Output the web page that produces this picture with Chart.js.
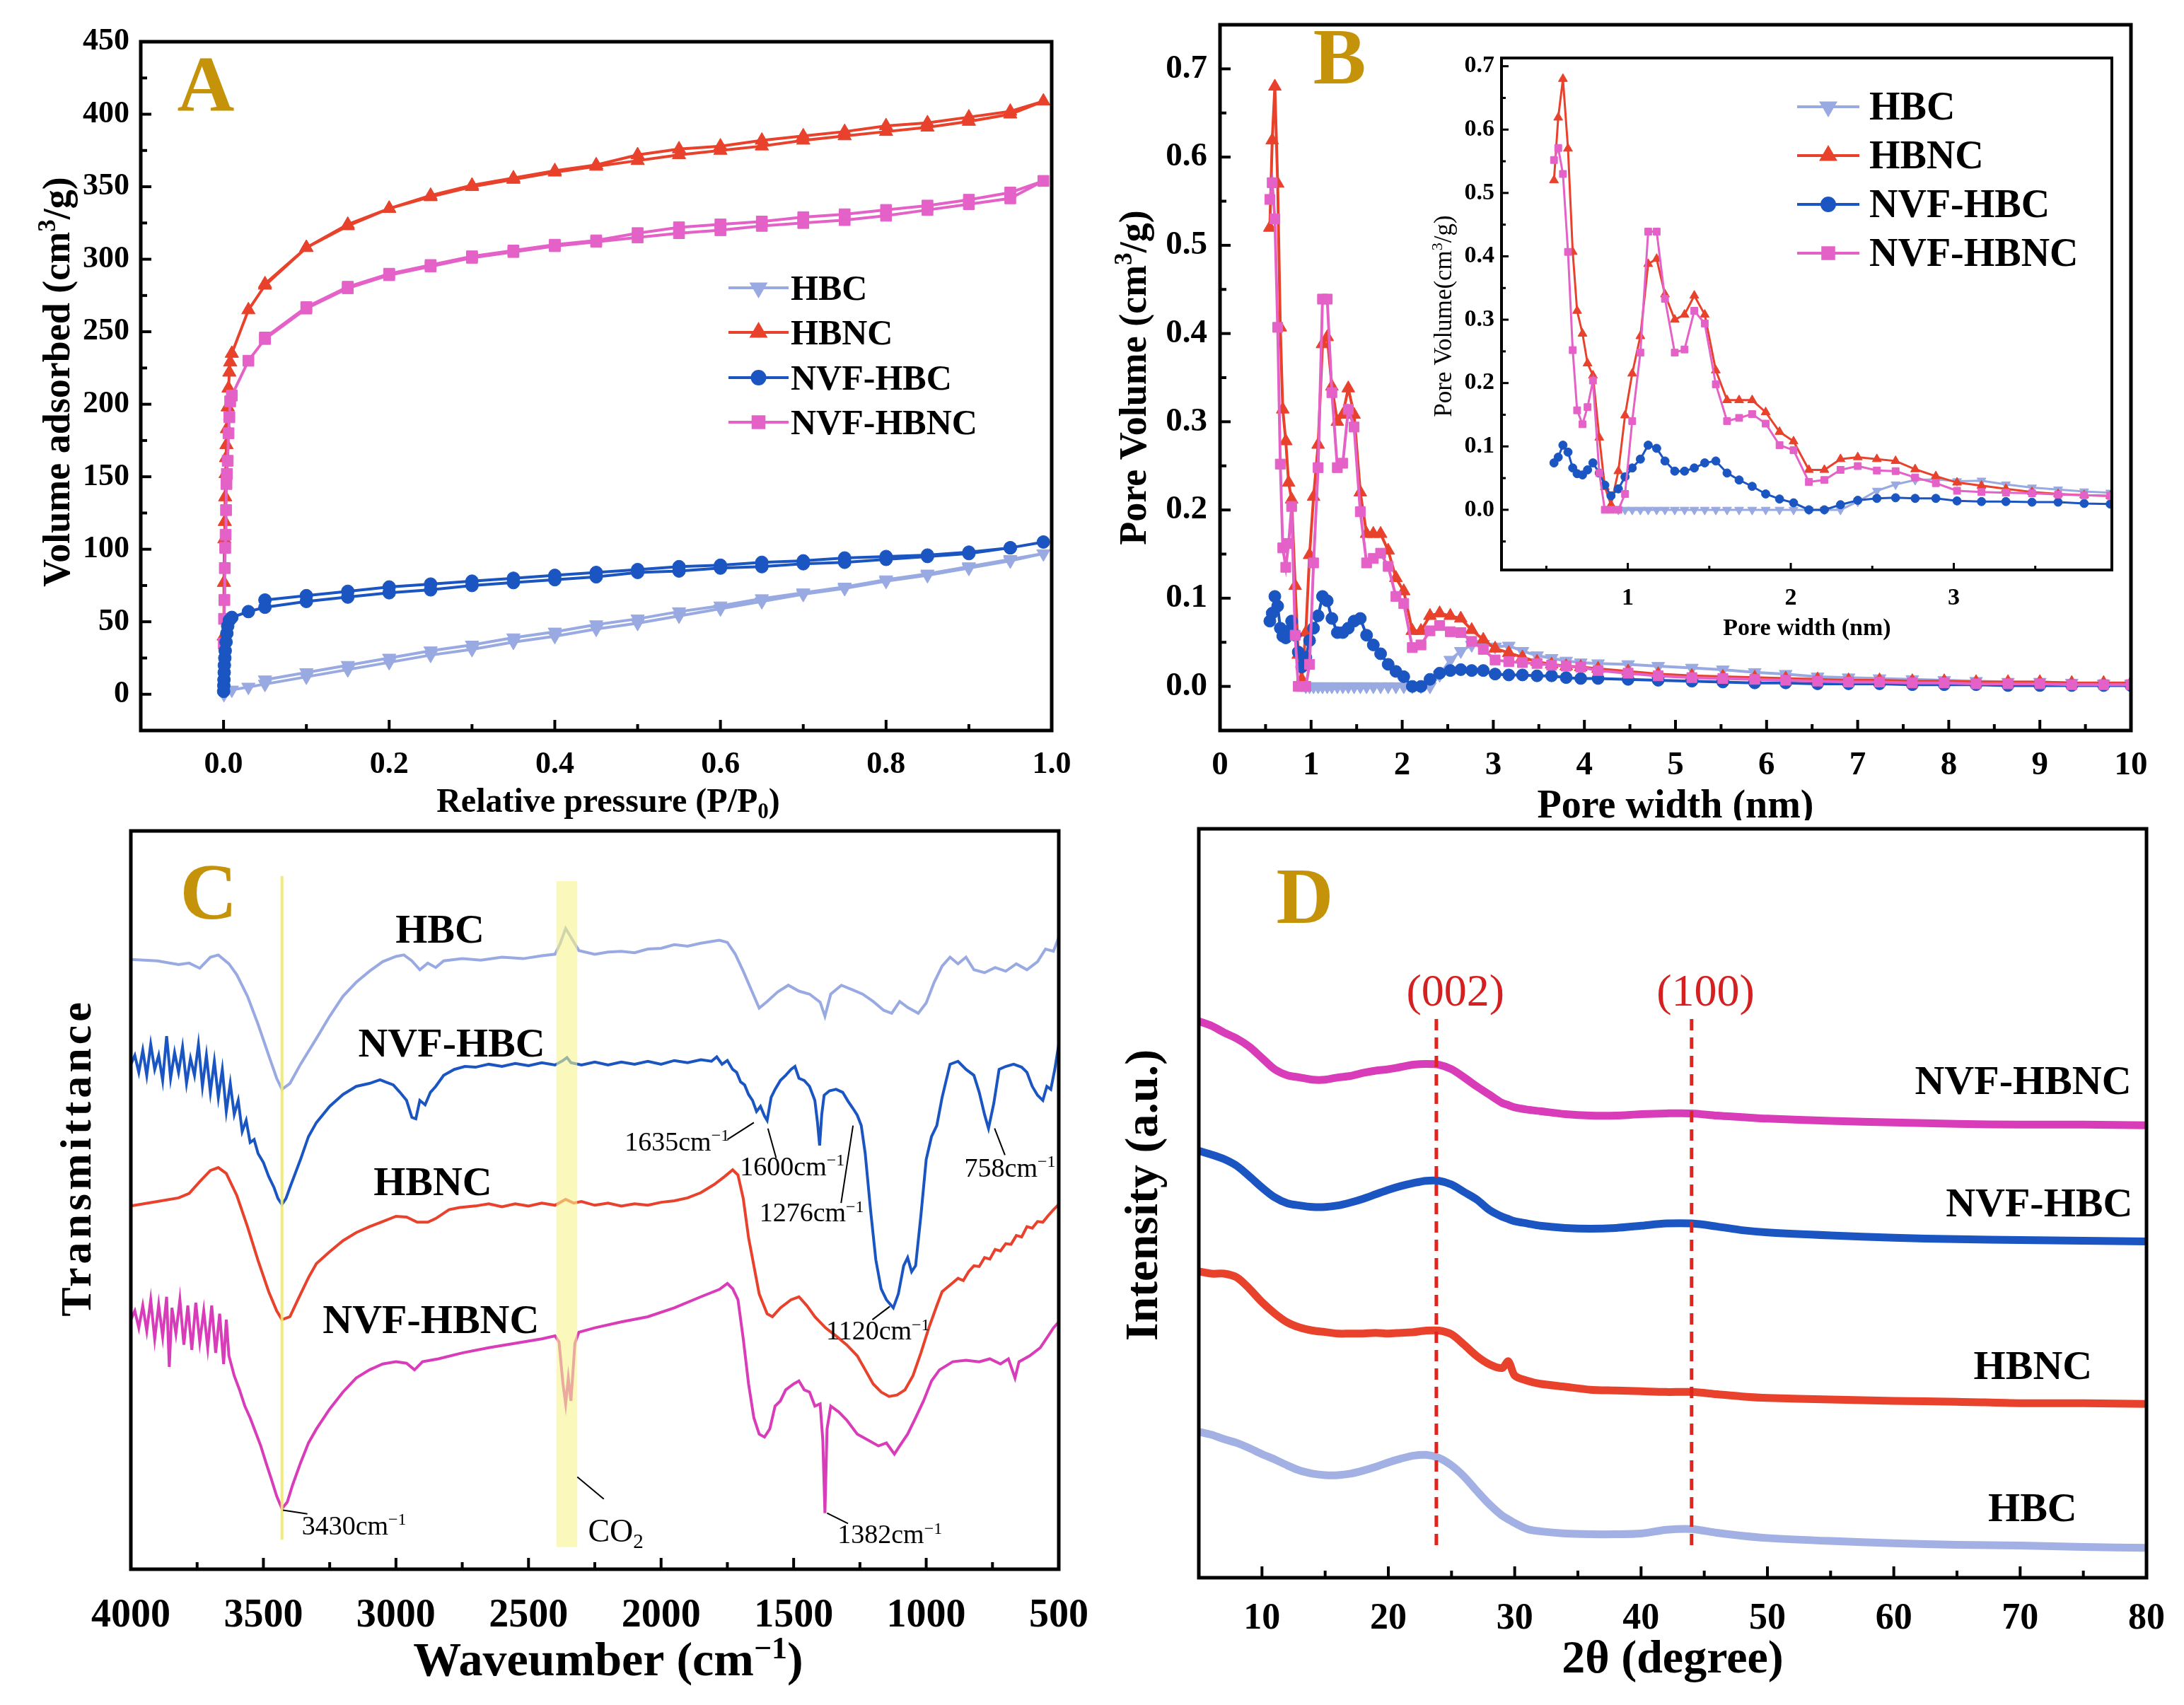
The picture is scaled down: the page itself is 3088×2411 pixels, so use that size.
<!DOCTYPE html>
<html>
<head>
<meta charset="utf-8">
<script src="https://cdn.jsdelivr.net/npm/chart.js@4.4.1/dist/chart.umd.min.js"></script>
<style>
  body { margin: 0; background: #fff; width: 3088px; height: 2411px; position: relative; overflow: hidden; }
  canvas { position: absolute; }
</style>
</head>
<body>
<canvas id="cA" width="1544" height="1160" style="left:0;top:0;width:1544px;height:1160px"></canvas>
<canvas id="cB" width="1544" height="1160" style="left:1544px;top:0;width:1544px;height:1160px"></canvas>
<canvas id="cI" width="1010" height="850" style="left:1990px;top:60px;width:1010px;height:850px"></canvas>
<canvas id="cC" width="1600" height="1251" style="left:0;top:1160px;width:1600px;height:1251px"></canvas>
<canvas id="cD" width="1544" height="1251" style="left:1544px;top:1160px;width:1544px;height:1251px"></canvas>
<script>
// ---- A: N2 isotherms (P/P0, cm3/g) ----
const pBranch = [0.05, 0.1, 0.15, 0.2, 0.25, 0.3, 0.35, 0.4, 0.45, 0.5, 0.55, 0.6, 0.65, 0.7, 0.75, 0.8, 0.85, 0.9, 0.95];
const pTop = 0.99;

const hbcLowP = [0.0005, 0.01, 0.03];
const hbcLowV = [0, 3, 5];
const hbcAds = [7, 12, 17, 22, 27, 31, 36, 40, 45, 49, 54, 59, 64, 69, 73, 78, 82, 87, 92];
const hbcDes = [10, 15, 20, 25, 30, 34, 39, 43, 48, 52, 57, 61, 66, 70, 74, 79, 83, 88, 93];
const hbcTop = 97;

const hbncLowP = [0.0002, 0.0005, 0.001, 0.0015, 0.002, 0.0025, 0.003, 0.0035, 0.004, 0.005, 0.006, 0.007, 0.008, 0.01, 0.03];
const hbncLowV = [40, 77, 107, 119, 136, 152, 163, 172, 183, 198, 211, 222, 229, 235, 265];
const hbncAds = [282, 308, 323, 335, 343, 350, 355, 360, 364, 368, 372, 375, 378, 382, 385, 388, 391, 395, 400];
const hbncDes = [283, 308, 324, 335, 344, 351, 356, 361, 365, 372, 376, 378, 382, 385, 388, 392, 394, 398, 402];
const hbncTop = 409;

const nvfHbcLowP = [0.0001, 0.0003, 0.0005, 0.0008, 0.001, 0.0015, 0.002, 0.003, 0.004, 0.005, 0.007, 0.01, 0.03];
const nvfHbcLowV = [2, 6, 10, 15, 20, 25, 30, 36, 42, 47, 51, 53, 57];
const nvfHbcAds = [60, 64, 67, 70, 72, 75, 77, 79, 81, 84, 85, 87, 88, 90, 91, 93, 95, 97, 101];
const nvfHbcDes = [65, 68, 71, 74, 76, 78, 80, 82, 84, 86, 88, 89, 91, 92, 94, 95, 96, 98, 101];
const nvfHbcTop = 105;

const nvfHbncLowP = [0.0003, 0.0006, 0.001, 0.0015, 0.002, 0.0025, 0.003, 0.0035, 0.004, 0.005, 0.006, 0.007, 0.008, 0.01, 0.03];
const nvfHbncLowV = [35, 52, 65, 87, 101, 110, 127, 145, 152, 161, 180, 191, 202, 206, 230];
const nvfHbncAds = [245, 266, 280, 289, 295, 301, 305, 309, 312, 315, 318, 320, 323, 325, 327, 330, 334, 338, 342];
const nvfHbncDes = [246, 267, 281, 290, 296, 302, 306, 310, 313, 318, 322, 324, 326, 329, 331, 334, 337, 341, 346];
const nvfHbncTop = 354;

const aTicksX = [0, 0.2, 0.4, 0.6, 0.8, 1.0];
const aTicksY = [0, 50, 100, 150, 200, 250, 300, 350, 400, 450];

// ---- B: pore size distribution (nm, cm3/g) ----
const poreWidth = [0.547, 0.573, 0.602, 0.633, 0.662, 0.689, 0.722, 0.753, 0.786, 0.825, 0.859, 0.897, 0.942,
  0.983, 1.027, 1.077, 1.125, 1.177, 1.228, 1.288, 1.348, 1.408, 1.472, 1.540, 1.609, 1.683, 1.763, 1.846,
  1.931, 2.017, 2.111, 2.206, 2.305, 2.411, 2.528, 2.643, 2.763, 2.89, 3.02, 3.17, 3.32, 3.48, 3.64, 3.80,
  3.96, 4.15, 4.48, 4.81, 5.18, 5.52, 5.87, 6.21, 6.56, 6.90, 7.24, 7.60, 7.95, 8.30, 8.65, 9.00, 9.35, 9.70, 10.0];
const hbcPV = [null, null, null, null, null, null, null, null, null, null, null, null, 0.000,
  0.000, 0.000, 0.000, 0.000, 0.000, 0.000, 0.000, 0.000, 0.000, 0.000, 0.000, 0.000, 0.000, 0.000, 0.000,
  0.000, 0.000, 0.000, 0.000, 0.000, 0.013, 0.030, 0.040, 0.047, 0.048, 0.045, 0.046, 0.040, 0.035, 0.032, 0.029,
  0.027, 0.026, 0.025, 0.023, 0.021, 0.019, 0.016, 0.014, 0.011, 0.010, 0.009, 0.008, 0.007, 0.006, 0.005, 0.005, 0.004, 0.003, 0.003];
const hbncPV = [0.520, 0.619, 0.680, 0.570, 0.407, 0.314, 0.278, 0.231, 0.212, 0.114, 0.036, 0.008, 0.061,
  0.149, 0.215, 0.274, 0.388, 0.396, 0.340, 0.300, 0.308, 0.338, 0.308, 0.220, 0.173, 0.173, 0.173, 0.154,
  0.123, 0.108, 0.063, 0.063, 0.080, 0.083, 0.080, 0.077, 0.064, 0.053, 0.043, 0.038, 0.033, 0.028, 0.025, 0.023,
  0.022, 0.020, 0.017, 0.014, 0.012, 0.011, 0.010, 0.009, 0.008, 0.007, 0.007, 0.006, 0.006, 0.005, 0.005, 0.005, 0.004, 0.004, 0.004];
const nvfHbcPV = [0.074, 0.083, 0.102, 0.091, 0.066, 0.057, 0.055, 0.063, 0.074, 0.058, 0.039, 0.022, 0.033,
  0.052, 0.066, 0.080, 0.102, 0.097, 0.077, 0.061, 0.061, 0.066, 0.074, 0.077, 0.058, 0.047, 0.037, 0.025,
  0.017, 0.011, 0.000, 0.000, 0.008, 0.015, 0.018, 0.019, 0.018, 0.018, 0.014, 0.013, 0.013, 0.012, 0.012, 0.010,
  0.009, 0.009, 0.008, 0.007, 0.006, 0.005, 0.004, 0.004, 0.003, 0.003, 0.003, 0.002, 0.002, 0.002, 0.001, 0.001, 0.001, 0.001, 0.001];
const nvfHbncPV = [0.552, 0.571, 0.530, 0.407, 0.252, 0.157, 0.135, 0.162, 0.204, 0.058, 0.000, 0.000, 0.000,
  0.025, 0.140, 0.248, 0.439, 0.439, 0.333, 0.248, 0.253, 0.314, 0.294, 0.198, 0.140, 0.145, 0.151, 0.136,
  0.102, 0.094, 0.044, 0.047, 0.063, 0.069, 0.062, 0.061, 0.051, 0.042, 0.030, 0.028, 0.027, 0.026, 0.024, 0.023,
  0.022, 0.018, 0.015, 0.012, 0.010, 0.009, 0.008, 0.007, 0.006, 0.005, 0.005, 0.004, 0.004, 0.003, 0.003, 0.003, 0.002, 0.002, 0.002];
const bTicksX = [0, 1, 2, 3, 4, 5, 6, 7, 8, 9, 10];
const bTicksY = [0, 0.1, 0.2, 0.3, 0.4, 0.5, 0.6, 0.7];
const insetTicksX = [1, 2, 3];

// ---- C: FTIR, [wavenumber, transmittance (a.u.)] ----
const hbcFtir = [[4000,82.6],[3900,82.4],[3820,81.9],[3780,82.1],[3740,81.4],[3700,82.9],[3670,83.2],[3630,82.0],
  [3600,80.5],[3560,77.6],[3520,73.8],[3480,69.6],[3450,66.5],[3430,65.0],[3400,65.8],[3360,68.4],[3300,71.9],
  [3250,74.9],[3200,77.6],[3150,79.5],[3100,81.0],[3050,82.3],[3000,83.0],[2970,83.2],[2940,82.4],[2910,81.2],
  [2880,82.1],[2850,81.5],[2820,82.4],[2750,82.7],[2680,82.5],[2600,82.9],[2520,82.7],[2450,83.1],[2400,83.3],
  [2380,84.8],[2360,86.8],[2340,85.6],[2310,83.8],[2250,83.3],[2200,83.6],[2150,83.7],[2100,83.5],[2050,84.0],
  [2000,84.1],[1950,84.6],[1900,84.4],[1850,84.8],[1780,85.2],[1750,84.9],[1720,83.3],[1690,81.0],[1660,78.5],
  [1630,76.0],[1600,76.9],[1560,78.2],[1520,79.1],[1480,78.3],[1440,77.9],[1400,76.8],[1382,74.9],[1360,77.9],
  [1320,79.1],[1280,78.5],[1240,77.9],[1200,76.9],[1160,75.7],[1130,75.3],[1100,76.9],[1070,76.1],[1030,75.3],
  [1000,76.7],[970,79.5],[940,81.7],[910,82.9],[880,82.0],[850,82.9],[820,81.2],[780,80.8],[740,81.5],[700,81.0],
  [660,82.0],[620,81.2],[580,82.3],[550,84.0],[520,83.7],[500,85.6]];
const nvfHbcFtir = [[4000,68.4],[3985,69.6],[3970,67.3],[3955,70.3],[3940,66.9],[3925,71.1],[3910,67.7],[3895,69.6],
  [3880,66.2],[3865,72.2],[3850,66.5],[3835,70.0],[3820,67.3],[3805,70.7],[3790,65.8],[3775,69.2],[3760,66.9],
  [3745,71.1],[3730,65.4],[3715,69.6],[3700,64.6],[3685,68.8],[3670,63.9],[3655,67.7],[3640,62.0],[3625,65.8],
  [3610,61.6],[3595,63.5],[3580,59.3],[3565,60.8],[3550,57.8],[3535,58.2],[3520,56.3],[3500,55.1],[3480,53.2],
  [3460,51.7],[3445,50.2],[3430,49.4],[3415,50.2],[3400,51.7],[3380,53.6],[3360,55.5],[3330,58.6],[3300,60.5],
  [3250,62.7],[3200,64.3],[3150,65.4],[3100,65.8],[3060,66.3],[3040,66.0],[3010,65.6],[2985,64.6],[2960,63.5],
  [2940,61.2],[2925,61.0],[2910,63.5],[2890,62.9],[2870,64.6],[2850,65.4],[2820,66.9],[2780,67.7],[2740,68.1],
  [2700,68.0],[2650,68.4],[2600,68.1],[2550,68.5],[2500,68.2],[2450,68.6],[2400,68.3],[2370,68.9],[2355,69.3],
  [2340,68.6],[2300,68.3],[2250,68.7],[2200,68.3],[2150,68.7],[2100,68.4],[2050,68.8],[2000,68.4],[1950,68.9],
  [1900,68.6],[1850,69.0],[1810,68.8],[1790,69.4],[1770,68.4],[1750,68.9],[1730,67.7],[1715,67.3],[1700,66.0],
  [1685,65.6],[1670,64.3],[1655,63.5],[1640,62.0],[1625,62.7],[1610,61.4],[1600,60.8],[1585,63.9],[1570,65.0],
  [1550,66.2],[1530,66.9],[1510,67.7],[1495,68.1],[1480,66.5],[1460,66.2],[1440,65.4],[1420,63.5],[1410,60.5],
  [1402,57.4],[1394,61.6],[1385,64.2],[1365,64.8],[1340,65.0],[1315,64.6],[1295,63.4],[1276,62.4],[1260,61.5],
  [1245,60.1],[1230,56.3],[1210,48.7],[1190,41.9],[1170,38.0],[1150,36.5],[1124,35.4],[1105,37.3],[1085,41.1],
  [1070,42.2],[1055,40.3],[1040,41.1],[1020,47.9],[1000,55.5],[980,58.6],[960,60.1],[940,63.9],[910,68.4],
  [880,68.8],[850,67.7],[820,66.9],[800,64.6],[780,61.6],[765,59.7],[745,63.1],[725,67.7],[700,68.1],[670,68.4],
  [640,68.0],[620,67.3],[600,65.4],[580,64.2],[560,63.5],[545,65.4],[530,65.0],[515,67.7],[500,71.1]];
const hbncFtir = [[4000,49.2],[3900,49.8],[3820,50.3],[3780,50.9],[3740,52.5],[3700,54.0],[3670,54.4],[3640,53.6],
  [3600,50.6],[3560,46.4],[3520,41.8],[3480,37.6],[3450,35.0],[3430,33.8],[3400,34.2],[3370,36.5],[3330,39.5],
  [3300,41.4],[3250,43.0],[3200,44.5],[3150,45.6],[3100,46.4],[3050,47.1],[3000,47.8],[2960,47.7],[2920,47.0],
  [2880,47.0],[2850,47.5],[2800,48.7],[2760,49.0],[2700,49.2],[2650,49.5],[2600,49.1],[2550,49.5],[2500,49.2],
  [2450,49.6],[2400,49.3],[2360,50.1],[2330,49.6],[2300,49.8],[2250,49.3],[2200,49.6],[2150,49.2],[2100,49.5],
  [2050,49.3],[2000,49.7],[1950,49.9],[1900,50.3],[1850,51.0],[1800,52.1],[1760,53.2],[1730,54.1],[1710,53.4],
  [1690,50.2],[1670,44.9],[1650,41.1],[1630,37.3],[1600,34.6],[1580,34.2],[1550,35.4],[1510,36.5],[1480,36.9],
  [1450,35.7],[1420,34.2],[1380,32.7],[1340,31.6],[1300,30.4],[1260,28.9],[1230,27.0],[1200,25.1],[1170,24.0],
  [1140,23.4],[1110,23.6],[1080,24.3],[1050,26.2],[1020,29.3],[990,32.7],[960,35.7],[940,37.6],[920,38.2],
  [900,38.8],[880,39.4],[860,39.1],[840,40.3],[820,41.1],[800,41.0],[780,42.2],[760,42.0],[740,43.3],[720,43.1],
  [700,44.1],[680,44.0],[660,45.2],[640,45.0],[620,46.4],[600,46.2],[580,47.1],[560,47.0],[540,47.9],[520,48.7],[500,49.4]];
const nvfHbncFtir = [[4000,33.8],[3985,35.0],[3970,32.7],[3955,35.7],[3940,32.3],[3925,36.5],[3910,31.2],[3895,35.8],
  [3880,31.5],[3865,36.9],[3855,27.4],[3845,35.4],[3830,31.9],[3815,36.5],[3800,30.4],[3785,35.7],[3770,29.7],
  [3755,36.1],[3740,30.8],[3725,35.0],[3710,30.0],[3695,35.7],[3680,29.3],[3665,34.6],[3650,27.8],[3640,33.8],
  [3630,28.9],[3610,26.2],[3590,24.3],[3570,22.1],[3550,20.5],[3530,18.6],[3510,16.7],[3490,14.4],[3470,12.2],
  [3450,9.9],[3430,8.2],[3410,9.1],[3390,11.4],[3360,14.4],[3330,17.1],[3300,19.0],[3250,21.7],[3200,24.0],
  [3150,25.9],[3100,27.0],[3050,27.8],[3000,28.1],[2960,27.9],[2930,27.0],[2900,28.1],[2870,28.3],[2840,28.5],
  [2750,29.3],[2650,30.0],[2550,30.6],[2450,31.2],[2400,31.6],[2385,30.8],[2370,25.1],[2360,22.4],[2350,25.9],
  [2340,22.8],[2325,30.6],[2310,32.1],[2250,32.7],[2150,33.5],[2050,34.2],[1950,35.4],[1850,36.9],[1780,37.9],
  [1750,38.7],[1730,38.0],[1710,36.5],[1690,31.2],[1670,25.1],[1650,20.5],[1630,18.3],[1610,17.9],[1590,19.0],
  [1570,22.1],[1550,22.8],[1530,24.3],[1500,25.1],[1480,25.5],[1460,24.3],[1440,24.0],[1420,22.1],[1400,22.4],
  [1390,17.5],[1382,7.6],[1374,19.0],[1360,22.1],[1330,21.3],[1300,20.2],[1260,18.3],[1220,17.5],[1180,16.7],
  [1150,17.1],[1120,15.6],[1100,16.7],[1070,18.3],[1040,20.5],[1010,22.8],[980,25.5],[950,27.0],[900,28.1],
  [850,28.3],[800,28.1],[760,28.5],[720,27.8],[690,28.5],[665,25.9],[650,28.1],[610,28.9],[570,30.0],[540,31.6],
  [520,32.7],[500,33.5]];
const cTicksX = [4000, 3500, 3000, 2500, 2000, 1500, 1000, 500];

// ---- D: XRD (2theta, intensity a.u.) ----
const twoTheta = [5, 6, 7, 8, 9, 10, 11, 12, 13, 14, 15, 16, 17, 18, 19, 20, 21, 22, 23, 24, 25, 26, 27, 28, 29, 29.5,
  30, 31, 32, 34, 36, 38, 40, 42, 44, 46, 48, 50, 55, 60, 65, 70, 75, 80];
const nvfHbncXrd = [74.3, 73.7, 72.8, 72.0, 70.9, 69.4, 67.9, 67.1, 66.8, 66.5, 66.5, 66.8, 67.0, 67.4, 67.7, 67.9,
  68.2, 68.5, 68.6, 68.5, 67.9, 66.8, 65.6, 64.5, 63.4, 63.1, 62.8, 62.5, 62.3, 61.9, 61.7, 61.7, 61.9, 62.0, 62.0,
  61.7, 61.5, 61.3, 61.0, 60.8, 60.6, 60.5, 60.5, 60.4];
const nvfHbcXrd = [57.0, 56.5, 55.9, 55.0, 53.6, 52.1, 50.8, 50.0, 49.7, 49.5, 49.5, 49.7, 50.1, 50.6, 51.2, 51.8,
  52.3, 52.7, 53.0, 53.0, 52.5, 51.5, 50.5, 49.1, 48.2, 47.9, 47.6, 47.3, 47.0, 46.7, 46.6, 46.7, 47.0, 47.3, 47.3,
  46.9, 46.4, 46.1, 45.7, 45.4, 45.2, 45.1, 45.0, 44.9];
const hbncXrd = [40.9, 40.6, 40.6, 40.1, 38.6, 36.8, 35.3, 34.1, 33.4, 33.0, 32.8, 32.6, 32.6, 32.6, 32.7, 32.6,
  32.7, 32.8, 33.0, 33.0, 32.5, 31.1, 29.6, 28.5, 28.0, 28.9, 27.0, 26.3, 25.9, 25.5, 25.1, 25.0, 24.9, 24.8, 24.8,
  24.5, 24.2, 24.0, 23.8, 23.6, 23.5, 23.3, 23.3, 23.2];
const hbcXrd = [19.5, 19.1, 18.5, 18.0, 17.3, 16.5, 15.8, 15.0, 14.3, 13.9, 13.7, 13.7, 13.9, 14.3, 14.8, 15.4,
  15.9, 16.3, 16.4, 16.0, 15.0, 13.5, 11.6, 9.8, 8.3, 7.8, 7.3, 6.5, 6.2, 5.9, 5.8, 5.8, 5.9, 6.4, 6.5,
  6.0, 5.6, 5.3, 4.9, 4.6, 4.4, 4.3, 4.1, 4.0];
const dTicksX = [10, 20, 30, 40, 50, 60, 70, 80];

// ---------------------------------------------------------------
const SERIF = '"Liberation Serif", "Times New Roman", serif';
const COL = { hbc: '#99a9e1', hbnc: '#e8412c', nvfHbc: '#1a55c2', nvfHbnc: '#e461c8', magenta: '#d93cb8' };
const GOLD = '#c4930a';

function loopPts(lowP, lowV, ads, top, des) {
  const out = lowP.map((p, i) => ({ x: p, y: lowV[i] }));
  pBranch.forEach((p, i) => out.push({ x: p, y: ads[i] }));
  out.push({ x: pTop, y: top });
  for (let i = pBranch.length - 1; i >= 0; i--) out.push({ x: pBranch[i], y: des[i] });
  return out;
}
const pts = (xs, ys) => xs.map((x, i) => ({ x, y: ys[i] })).filter(p => p.y !== null);
const pairs = arr => arr.map(p => ({ x: p[0], y: p[1] }));

function drawRich(ctx, parts, x, y, size, weight, opt) {
  opt = opt || {};
  ctx.save();
  ctx.translate(x, y);
  if (opt.rot) ctx.rotate(opt.rot);
  ctx.fillStyle = opt.color || '#000';
  ctx.textBaseline = 'alphabetic';
  ctx.textAlign = 'left';
  if (opt.spacing) ctx.letterSpacing = opt.spacing + 'px';
  const fontFor = p => `${weight} ${p[1] ? Math.round(size * 0.64) : size}px ${SERIF}`;
  let w = 0;
  parts.forEach(p => { ctx.font = fontFor(p); w += ctx.measureText(p[0]).width; });
  let cx = opt.align === 'left' ? 0 : opt.align === 'right' ? -w : -w / 2;
  parts.forEach(p => {
    ctx.font = fontFor(p);
    const dy = p[1] === 'sup' ? -size * 0.36 : p[1] === 'sub' ? size * 0.2 : 0;
    ctx.fillText(p[0], cx, size * 0.33 + dy);
    cx += ctx.measureText(p[0]).width;
  });
  ctx.restore();
}

function drawMarker(ctx, style, r, rot, x, y) {
  if (Chart.helpers && Chart.helpers.drawPoint) {
    Chart.helpers.drawPoint(ctx, { pointStyle: style, radius: r, rotation: rot || 0, borderWidth: 1 }, x, y);
  }
}

// decoration plugin: frame, inward ticks, titles, legend and notes
function makeDeco(spec) {
  return {
    id: 'deco',
    afterDatasetsDraw(chart) {
      const ctx = chart.ctx, sx = chart.scales.x, sy = chart.scales.y;
      (spec.bands || []).forEach(b => {
        ctx.save();
        ctx.fillStyle = b.color;
        const x1 = sx.getPixelForValue(b.x1), x2 = sx.getPixelForValue(b.x2);
        const y1 = sy.getPixelForValue(b.y1), y2 = sy.getPixelForValue(b.y2);
        ctx.fillRect(Math.min(x1, x2), Math.min(y1, y2), Math.abs(x2 - x1), Math.abs(y2 - y1));
        ctx.restore();
      });
      (spec.lines || []).forEach(l => {
        ctx.save();
        ctx.strokeStyle = l.color || '#000';
        ctx.lineWidth = l.width || 2;
        ctx.setLineDash(l.dash || []);
        ctx.beginPath();
        ctx.moveTo(sx.getPixelForValue(l.x1), sy.getPixelForValue(l.y1));
        ctx.lineTo(sx.getPixelForValue(l.x2), sy.getPixelForValue(l.y2));
        ctx.stroke();
        ctx.restore();
      });
    },
    afterDraw(chart) {
      const ctx = chart.ctx, a = chart.chartArea, sx = chart.scales.x, sy = chart.scales.y;
      ctx.save();
      ctx.strokeStyle = '#000';
      ctx.lineWidth = spec.frameWidth || 5;
      ctx.strokeRect(a.left, a.top, a.right - a.left, a.bottom - a.top);
      ctx.lineWidth = spec.tickWidth || 4;
      (spec.ticks || []).forEach(t => {
        const s = chart.scales[t.axis];
        const majors = s.ticks.map(k => k.value);
        const lo = Math.min(s.min, s.max), hi = Math.max(s.min, s.max);
        const marks = majors.map(v => [v, spec.tickLen[0]]);
        if (t.minor) {
          for (let k = Math.ceil(lo / t.minor - 1e-9); k * t.minor <= hi + 1e-9; k++) {
            const v = k * t.minor;
            if (!majors.some(m => Math.abs(m - v) < 1e-9)) marks.push([v, spec.tickLen[1]]);
          }
        }
        marks.forEach(([v, len]) => {
          const p = s.getPixelForValue(v);
          ctx.beginPath();
          if (s.isHorizontal()) {
            if (p < a.left + 4 || p > a.right - 4) return;
            ctx.moveTo(p, a.bottom); ctx.lineTo(p, a.bottom - len);
          } else {
            if (p < a.top + 4 || p > a.bottom - 4) return;
            ctx.moveTo(a.left, p); ctx.lineTo(a.left + len, p);
          }
          ctx.stroke();
        });
      });
      ctx.restore();

      if (spec.letter) {
        ctx.save();
        ctx.fillStyle = GOLD;
        ctx.font = `bold ${spec.letter.size}px ${SERIF}`;
        ctx.textAlign = 'center';
        ctx.textBaseline = 'middle';
        ctx.fillText(spec.letter.text, spec.letter.x, spec.letter.y);
        ctx.restore();
      }
      (spec.titles || []).forEach(t => drawRich(ctx, t.parts, t.x, t.y, t.size, t.weight || 'bold', { rot: t.rot, spacing: t.spacing }));

      if (spec.legend) {
        const L = spec.legend;
        L.items.forEach((it, i) => {
          const y = L.rows[i];
          ctx.save();
          ctx.strokeStyle = it.color;
          ctx.fillStyle = it.color;
          ctx.lineWidth = L.lineWidth;
          ctx.beginPath();
          ctx.moveTo(L.x1, y); ctx.lineTo(L.x2, y);
          ctx.stroke();
          drawMarker(ctx, it.style, it.r, it.rot, (L.x1 + L.x2) / 2, y);
          ctx.restore();
          drawRich(ctx, [[it.label]], L.xt, y, L.size, 'bold', { align: 'left' });
        });
      }
      (spec.notes || []).forEach(n => {
        drawRich(ctx, n.parts, sx.getPixelForValue(n.x), sy.getPixelForValue(n.y), n.size, n.weight || 'normal',
          { align: n.align || 'center', color: n.color });
      });
      (spec.leaders || []).forEach(l => {
        ctx.save();
        ctx.strokeStyle = '#000';
        ctx.lineWidth = 2;
        ctx.beginPath();
        ctx.moveTo(sx.getPixelForValue(l[0]), sy.getPixelForValue(l[1]));
        ctx.lineTo(sx.getPixelForValue(l[2]), sy.getPixelForValue(l[3]));
        ctx.stroke();
        ctx.restore();
      });
    }
  };
}

function linScale(o) {
  const horiz = o.axis === 'x';
  return {
    type: 'linear', display: o.display !== false, min: o.min, max: o.max, reverse: !!o.reverse,
    afterBuildTicks: o.ticks ? (s => { s.ticks = o.ticks.map(v => ({ value: v })); }) : undefined,
    afterFit: s => {
      if (horiz) s.height = o.fit; else s.width = o.fit;
      // keep the plot box where it is set, edge labels may overhang
      s.paddingLeft = 0; s.paddingRight = 0; s.paddingTop = 0; s.paddingBottom = 0;
    },
    grid: { display: false, drawTicks: false },
    border: { display: false },
    ticks: {
      padding: o.pad || 0, color: '#000', autoSkip: false, maxRotation: 0,
      font: { family: SERIF, weight: 'bold', size: o.size || 40 },
      callback: v => (o.dec ? Number(v).toFixed(o.dec) : String(v))
    }
  };
}

function markerSet(label, data, color, style, r, rot, bw) {
  return {
    label, data, borderColor: color, backgroundColor: color,
    pointBackgroundColor: color, pointBorderColor: color, pointBorderWidth: 1,
    pointStyle: style, pointRadius: r, pointRotation: rot || 0, borderWidth: bw, tension: 0, fill: false
  };
}
function plainSet(label, data, color, bw, tension) {
  return { label, data, borderColor: color, backgroundColor: color, pointRadius: 0, borderWidth: bw, tension: tension || 0, fill: false };
}

const base = (extra) => Object.assign({
  responsive: false, animation: false, devicePixelRatio: 1,
  plugins: { legend: { display: false }, tooltip: { enabled: false } }
}, extra);

// ---------------- Panel A ----------------
new Chart(document.getElementById('cA'), {
  type: 'line',
  data: { datasets: [
    markerSet('NVF-HBC', loopPts(nvfHbcLowP, nvfHbcLowV, nvfHbcAds, nvfHbcTop, nvfHbcDes), COL.nvfHbc, 'circle', 9, 0, 4),
    markerSet('NVF-HBNC', loopPts(nvfHbncLowP, nvfHbncLowV, nvfHbncAds, nvfHbncTop, nvfHbncDes), COL.nvfHbnc, 'rect', 11, 0, 4),
    markerSet('HBNC', loopPts(hbncLowP, hbncLowV, hbncAds, hbncTop, hbncDes), COL.hbnc, 'triangle', 11, 0, 4),
    markerSet('HBC', loopPts(hbcLowP, hbcLowV, hbcAds, hbcTop, hbcDes), COL.hbc, 'triangle', 11, 180, 4)
  ] },
  options: base({
    layout: { padding: { top: 59, right: 57, left: 0, bottom: 0 } },
    scales: {
      x: linScale({ axis: 'x', min: -0.1, max: 1.0, ticks: aTicksX, fit: 127, pad: 22, size: 44, dec: 1 }),
      y: linScale({ axis: 'y', min: -25, max: 450, ticks: aTicksY, fit: 199, pad: 16, size: 44 })
    }
  }),
  plugins: [makeDeco({
    tickLen: [15, 9],
    ticks: [{ axis: 'x', minor: 0.1 }, { axis: 'y', minor: 25 }],
    letter: { text: 'A', x: 291, y: 128, size: 112 },
    titles: [
      { parts: [['Relative pressure (P/P'], ['0', 'sub'], [')']], x: 860, y: 1132, size: 48 },
      { parts: [['Volume adsorbed (cm'], ['3', 'sup'], ['/g)']], x: 80, y: 540, size: 54, rot: -Math.PI / 2 }
    ],
    legend: {
      x1: 1030, x2: 1115, xt: 1118, rows: [407, 470, 534, 597], size: 50, lineWidth: 4,
      items: [
        { label: 'HBC', color: COL.hbc, style: 'triangle', r: 11, rot: 180 },
        { label: 'HBNC', color: COL.hbnc, style: 'triangle', r: 11 },
        { label: 'NVF-HBC', color: COL.nvfHbc, style: 'circle', r: 9 },
        { label: 'NVF-HBNC', color: COL.nvfHbnc, style: 'rect', r: 11 }
      ]
    }
  })]
});

// ---------------- Panel B ----------------
function bSets(scaleR, bw) {
  return [
    markerSet('NVF-HBNC', pts(poreWidth, nvfHbncPV), COL.nvfHbnc, 'rect', 10 * scaleR, 0, bw),
    markerSet('NVF-HBC', pts(poreWidth, nvfHbcPV), COL.nvfHbc, 'circle', 8.5 * scaleR, 0, bw),
    markerSet('HBNC', pts(poreWidth, hbncPV), COL.hbnc, 'triangle', 10.5 * scaleR, 0, bw),
    markerSet('HBC', pts(poreWidth, hbcPV), COL.hbc, 'triangle', 10.5 * scaleR, 180, bw)
  ];
}
new Chart(document.getElementById('cB'), {
  type: 'line',
  data: { datasets: bSets(1, 4) },
  options: base({
    layout: { padding: { top: 35, right: 75, left: 0, bottom: 0 } },
    scales: {
      x: linScale({ axis: 'x', min: 0, max: 10, ticks: bTicksX, fit: 127, pad: 22, size: 47 }),
      y: linScale({ axis: 'y', min: -0.05, max: 0.75, ticks: bTicksY, fit: 181, pad: 18, size: 47, dec: 1 })
    }
  }),
  plugins: [makeDeco({
    tickLen: [15, 9],
    ticks: [{ axis: 'x', minor: 0.5 }, { axis: 'y', minor: 0.05 }],
    letter: { text: 'B', x: 350, y: 89, size: 112 },
    titles: [
      { parts: [['Pore width (nm)']], x: 825, y: 1138, size: 56 },
      { parts: [['Pore Volume (cm'], ['3', 'sup'], ['/g)']], x: 58, y: 534, size: 54, rot: -Math.PI / 2 }
    ],
    legend: {
      x1: 997, x2: 1085, xt: 1099, rows: [151, 220, 289, 358], size: 56, lineWidth: 4,
      items: [
        { label: 'HBC', color: COL.hbc, style: 'triangle', r: 11, rot: 180 },
        { label: 'HBNC', color: COL.hbnc, style: 'triangle', r: 11 },
        { label: 'NVF-HBC', color: COL.nvfHbc, style: 'circle', r: 9 },
        { label: 'NVF-HBNC', color: COL.nvfHbnc, style: 'rect', r: 11 }
      ]
    }
  })]
});

// ---------------- Inset of B ----------------
new Chart(document.getElementById('cI'), {
  type: 'line',
  data: { datasets: bSets(0.7, 3) },
  options: base({
    layout: { padding: { top: 22, right: 14, left: 0, bottom: 0 } },
    scales: {
      x: linScale({ axis: 'x', min: 0.225, max: 3.97, ticks: insetTicksX, fit: 104, pad: 20, size: 34 }),
      y: linScale({ axis: 'y', min: -0.095, max: 0.713, ticks: bTicksY, fit: 133, pad: 10, size: 34, dec: 1 })
    }
  }),
  plugins: [makeDeco({
    frameWidth: 4, tickWidth: 3, tickLen: [10, 6],
    ticks: [{ axis: 'x', minor: 0.5 }, { axis: 'y', minor: 0.05 }],
    titles: [
      { parts: [['Pore width (nm)']], x: 565, y: 827, size: 34 },
      { parts: [['Pore Volume(cm'], ['3', 'sup'], ['/g)']], x: 50, y: 387, size: 35, rot: -Math.PI / 2, weight: 'normal' }
    ]
  })]
});

// ---------------- Panel C ----------------
new Chart(document.getElementById('cC'), {
  type: 'line',
  data: { datasets: [
    plainSet('HBC', pairs(hbcFtir), COL.hbc, 4),
    plainSet('NVF-HBC', pairs(nvfHbcFtir), COL.nvfHbc, 4),
    plainSet('HBNC', pairs(hbncFtir), COL.hbnc, 4),
    plainSet('NVF-HBNC', pairs(nvfHbncFtir), COL.magenta, 4)
  ] },
  options: base({
    layout: { padding: { top: 15, right: 103, left: 185, bottom: 0 } },
    scales: {
      x: linScale({ axis: 'x', min: 500, max: 4000, reverse: true, ticks: cTicksX, fit: 192, pad: 33, size: 56 }),
      y: linScale({ axis: 'y', min: 0, max: 100, display: false, fit: 0 })
    }
  }),
  plugins: [makeDeco({
    tickLen: [16, 10],
    ticks: [{ axis: 'x', minor: 250 }],
    bands: [{ x1: 2395, x2: 2316, y1: 3.0, y2: 93.2, color: 'rgba(247, 243, 140, 0.6)' }],
    lines: [{ x1: 3430, y1: 4.0, x2: 3430, y2: 93.9, color: 'rgba(240, 232, 110, 0.9)', width: 4 }],
    letter: { text: 'C', x: 295, y: 110, size: 112 },
    titles: [
      { parts: [['Waveumber (cm'], ['\u22121', 'sup'], [')']], x: 860, y: 1187, size: 68 },
      { parts: [['Transmittance']], x: 108, y: 477, size: 62, rot: -Math.PI / 2, spacing: 5 }
    ],
    notes: [
      { parts: [['HBC']], x: 2834, y: 86.7, size: 58, weight: 'bold' },
      { parts: [['NVF-HBC']], x: 2790, y: 71.3, size: 58, weight: 'bold' },
      { parts: [['HBNC']], x: 2861, y: 52.5, size: 58, weight: 'bold' },
      { parts: [['NVF-HBNC']], x: 2868, y: 33.8, size: 58, weight: 'bold' },
      { parts: [['1635cm'], ['\u22121', 'sup']], x: 1940, y: 57.9, size: 38 },
      { parts: [['1600cm'], ['\u22121', 'sup']], x: 1505, y: 54.6, size: 38 },
      { parts: [['1276cm'], ['\u22121', 'sup']], x: 1432, y: 48.3, size: 38 },
      { parts: [['758cm'], ['\u22121', 'sup']], x: 684, y: 54.4, size: 38 },
      { parts: [['1120cm'], ['\u22121', 'sup']], x: 1182, y: 32.3, size: 38 },
      { parts: [['3430cm'], ['\u22121', 'sup']], x: 3158, y: 5.9, size: 38 },
      { parts: [['CO'], ['2', 'sub']], x: 2171, y: 5.2, size: 46 },
      { parts: [['1382cm'], ['\u22121', 'sup']], x: 1137, y: 4.7, size: 38 }
    ],
    leaders: [
      [1750, 58.2, 1650, 60.5], [1597, 59.7, 1566, 55.7], [1276, 60.1, 1321, 49.6], [742, 59.7, 703, 56.1],
      [1137, 35.6, 1203, 33.8], [3426, 8.0, 3334, 7.5], [2316, 12.5, 2216, 9.5], [1374, 7.6, 1295, 6.2]
    ]
  })]
});

// ---------------- Panel D ----------------
new Chart(document.getElementById('cD'), {
  type: 'line',
  data: { datasets: [
    plainSet('NVF-HBNC', pts(twoTheta, nvfHbncXrd), COL.magenta, 11, 0.3),
    plainSet('NVF-HBC', pts(twoTheta, nvfHbcXrd), COL.nvfHbc, 11, 0.3),
    plainSet('HBNC', pts(twoTheta, hbncXrd), COL.hbnc, 11, 0.3),
    plainSet('HBC', pts(twoTheta, hbcXrd), '#a3b0e3', 11, 0.3)
  ] },
  options: base({
    layout: { padding: { top: 12, right: 53, left: 151, bottom: 0 } },
    scales: {
      x: linScale({ axis: 'x', min: 5, max: 80, ticks: dTicksX, fit: 180, pad: 27, size: 52 }),
      y: linScale({ axis: 'y', min: 0, max: 100, display: false, fit: 0 })
    }
  }),
  plugins: [makeDeco({
    tickLen: [16, 10],
    ticks: [{ axis: 'x', minor: 5 }],
    lines: [
      { x1: 23.8, y1: 74.6, x2: 23.8, y2: 3.4, color: '#e0251f', width: 5, dash: [16, 10] },
      { x1: 44.0, y1: 74.6, x2: 44.0, y2: 3.4, color: '#e0251f', width: 5, dash: [16, 10] }
    ],
    letter: { text: 'D', x: 301, y: 116, size: 112 },
    titles: [
      { parts: [['2\u03b8 (degree)']], x: 821, y: 1183, size: 66 },
      { parts: [['Intensity (a.u.)']], x: 70, y: 530, size: 66, rot: -Math.PI / 2 }
    ],
    notes: [
      { parts: [['(002)']], x: 25.3, y: 78.4, size: 64, color: '#d42020' },
      { parts: [['(100)']], x: 45.1, y: 78.4, size: 64, color: '#d42020' },
      { parts: [['NVF-HBNC']], x: 78.8, y: 66.4, size: 58, weight: 'bold', align: 'right' },
      { parts: [['NVF-HBC']], x: 78.9, y: 50.1, size: 58, weight: 'bold', align: 'right' },
      { parts: [['HBNC']], x: 75.7, y: 28.3, size: 58, weight: 'bold', align: 'right' },
      { parts: [['HBC']], x: 74.5, y: 9.4, size: 58, weight: 'bold', align: 'right' }
    ]
  })]
});
</script>
</body>
</html>
